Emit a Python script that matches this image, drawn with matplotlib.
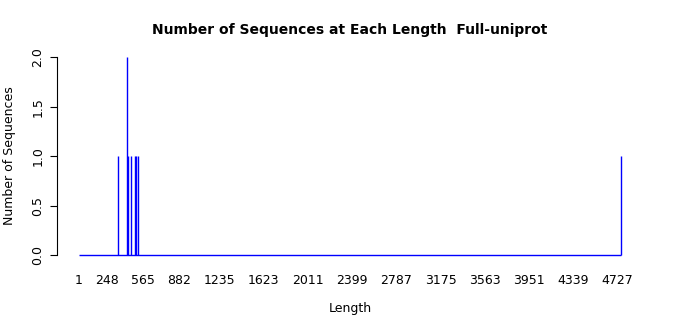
import matplotlib
matplotlib.use("Agg")
import matplotlib.pyplot as plt

# lengths that have at least one sequence, and how many
lengths = [350, 425, 434, 464, 499, 508, 525, 4760]
counts = [1, 2, 1, 1, 1, 1, 1, 1]

# full length range shown on the axis
len_min, len_max = 1, 4760

xtick_vals = [1, 248, 565, 882, 1235, 1623, 2011, 2399, 2787, 3175,
              3563, 3951, 4339, 4727]
ytick_vals = [0.0, 0.5, 1.0, 1.5, 2.0]

fig = plt.figure(figsize=(7, 3.15), dpi=100)
ax = fig.add_axes([0.0814, 0.165, 0.837, 0.679])

ax.hlines(0, len_min, len_max, color='blue', linewidth=1)
ax.vlines(lengths, 0, counts, color='blue', linewidth=1)

span = len_max - len_min
ax.set_xlim(len_min - 0.04 * span, len_max + 0.04 * span)
ax.set_ylim(-0.08, 2.08)

for side in ['top', 'right', 'bottom']:
    ax.spines[side].set_visible(False)
ax.spines['left'].set_bounds(0, 2)
ax.spines['left'].set_linewidth(0.8)

ax.set_yticks(ytick_vals)
ax.set_yticklabels([f"{v:.1f}" for v in ytick_vals], rotation=90, va='center', fontsize=9)
ax.tick_params(axis='y', length=5, width=0.8, pad=4)

ax.set_xticks(xtick_vals)
ax.set_xticklabels([str(v) for v in xtick_vals], fontsize=9)
ax.tick_params(axis='x', length=0, pad=8)

ax.set_xlabel('Length', fontsize=9, labelpad=11)
ax.set_ylabel('Number of Sequences', fontsize=9, labelpad=11)
ax.set_title('Number of Sequences at Each Length  Full-uniprot',
             fontsize=10, fontweight='bold', pad=11)

fig.savefig('out.png', dpi=100)
